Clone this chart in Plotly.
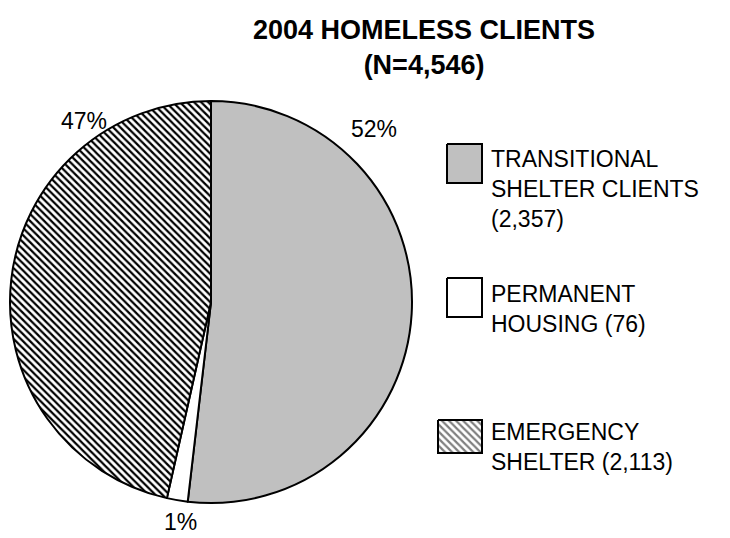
import plotly.graph_objects as go

# ---- data ----
categories = ["TRANSITIONAL<br>SHELTER CLIENTS", "PERMANENT<br>HOUSING", "EMERGENCY<br>SHELTER"]
client_counts = [2357, 76, 2113]
percent_labels = ["52%", "1%", "47%"]
title_lines = ["2004 HOMELESS CLIENTS", "(N=4,546)"]

# ---- styling ----
W, H = 730, 538
FONT = "Liberation Sans, Arial, sans-serif"
slice_colors = ["#c0c0c0", "#ffffff", "#ffffff"]
slice_patterns = ["", "", "\\"]
HATCH = dict(fgcolor="#000000", bgcolor="#ffffff", size=5, solidity=0.45)


def px(x):
    return x / W


def py(y):
    return 1 - y / H


fig = go.Figure()

# pie occupies a 402 px square on the left
fig.add_trace(go.Pie(
    labels=categories,
    values=client_counts,
    sort=False,
    direction="clockwise",
    rotation=0,
    textinfo="none",
    hoverinfo="skip",
    showlegend=False,
    domain=dict(x=[px(10), px(412)], y=[py(503), py(101)]),
    marker=dict(
        colors=slice_colors,
        line=dict(color="#000000", width=2),
        pattern=dict(shape=slice_patterns, **HATCH),
    ),
))

# percentage labels placed around the pie (anchor: x, y, vertical anchor)
pct_pos = [(374, 129, "middle"), (180, 537, "bottom"), (84, 121, "middle")]
for txt, (x, y, ya) in zip(percent_labels, pct_pos):
    fig.add_annotation(x=px(x), y=py(y), xref="paper", yref="paper",
                       text=txt, showarrow=False, xanchor="center", yanchor=ya,
                       font=dict(family=FONT, size=23, color="#000000"))

# legend: swatch boxes drawn on a hidden pixel-scaled axis, labels as text
swatch_boxes = [(447, 144, 482, 183), (447, 278, 482, 317), (438, 420, 482, 453)]
label_centers = [189, 309, 447]
for cat, n, color, pat, box, yc in zip(categories, client_counts, slice_colors,
                                        slice_patterns, swatch_boxes, label_centers):
    x0, y0, x1, y1 = box
    fig.add_trace(go.Scatter(
        x=[x0, x1, x1, x0, x0], y=[y0, y0, y1, y1, y0],
        mode="lines", fill="toself", fillcolor=color,
        fillpattern=dict(shape=pat, **HATCH) if pat else None,
        line=dict(color="#000000", width=2),
        hoverinfo="skip", showlegend=False,
    ))
    fig.add_annotation(x=px(489), y=py(yc), xref="paper", yref="paper",
                       text=f"{cat} ({n:,})".replace("CLIENTS (", "CLIENTS<br>("),
                       showarrow=False, xanchor="left", yanchor="middle", align="left",
                       font=dict(family=FONT, size=23, color="#000000"))

# chart title
fig.add_annotation(x=px(424), y=py(47), xref="paper", yref="paper",
                   text="<b>" + "<br>".join(title_lines) + "</b>",
                   showarrow=False, xanchor="center", yanchor="middle", align="center",
                   font=dict(family=FONT, size=27, color="#000000"))

fig.update_xaxes(range=[0, W], visible=False, fixedrange=True)
fig.update_yaxes(range=[H, 0], visible=False, fixedrange=True)
fig.update_layout(
    width=W, height=H,
    margin=dict(l=0, r=0, t=0, b=0),
    paper_bgcolor="#ffffff", plot_bgcolor="rgba(0,0,0,0)",
    showlegend=False,
)

fig.write_html("out.html")
